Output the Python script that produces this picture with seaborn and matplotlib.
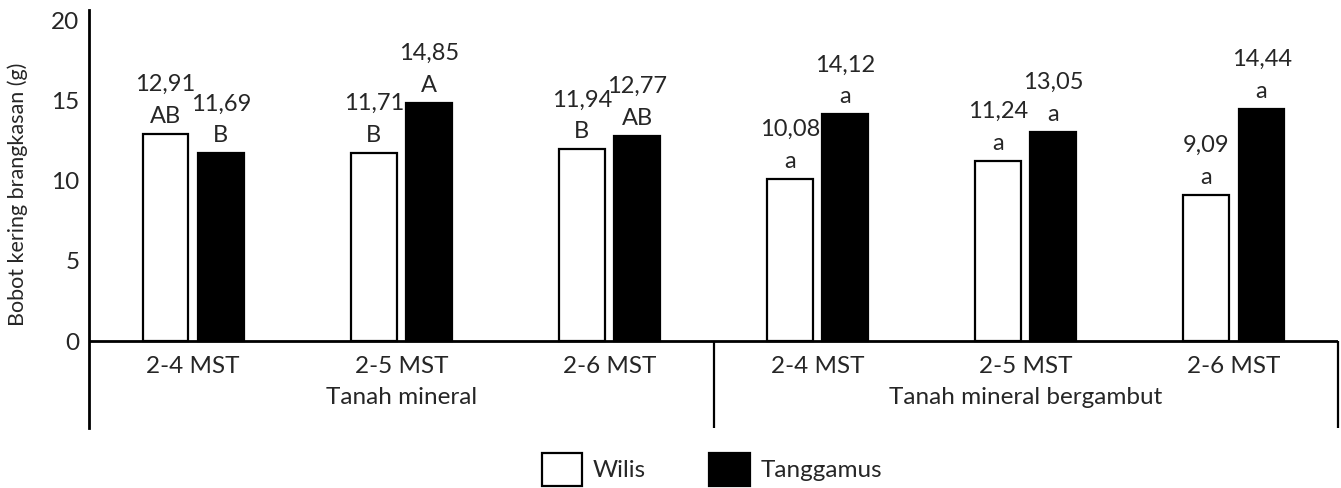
import matplotlib
matplotlib.use("Agg")
import matplotlib.pyplot as plt
from matplotlib.patches import Patch
import seaborn as sns
import pandas as pd

# Data: dry shoot weight (g) per soil type and observation period
soil_types = ["Tanah mineral", "Tanah mineral bergambut"]
periods = ["2-4 MST", "2-5 MST", "2-6 MST"]
varieties = ["Wilis", "Tanggamus"]

wilis_values = [12.91, 11.71, 11.94, 10.08, 11.24, 9.09]
tanggamus_values = [11.69, 14.85, 12.77, 14.12, 13.05, 14.44]
wilis_letters = ["AB", "B", "B", "a", "a", "a"]
tanggamus_letters = ["B", "A", "AB", "a", "a", "a"]

y_ticks = [0, 5, 10, 15, 20]
y_label = "Bobot kering brangkasan (g)"

# Long-form table
combos = [f"{s} | {p}" for s in soil_types for p in periods]
rows = []
for i, c in enumerate(combos):
    rows.append({"kombinasi": c, "varietas": "Wilis", "bobot": wilis_values[i]})
    rows.append({"kombinasi": c, "varietas": "Tanggamus", "bobot": tanggamus_values[i]})
df = pd.DataFrame(rows)

sns.set_style("white")
plt.rcParams["font.family"] = ["Lato", "DejaVu Sans"]

fig = plt.figure(figsize=(13.41, 4.88), dpi=100)
ax = fig.add_axes([0.0664, 0.123, 0.9314, 0.8557])

sns.barplot(
    data=df, x="kombinasi", y="bobot", hue="varietas", order=combos,
    hue_order=varieties, palette={"Wilis": "white", "Tanggamus": "black"},
    edgecolor="black", linewidth=1.6, width=0.53, gap=0.17,
    legend=False, ax=ax, errorbar=None,
)

ax.set_xlim(-0.5, len(combos) - 0.5)
ax.set_ylim(-5.4, 20.6)
ax.set_yticks(y_ticks)
ax.set_yticklabels([str(t) for t in y_ticks], fontsize=17.5)
ax.set_xticks([])
ax.set_xlabel("")
ax.set_ylabel(y_label, fontsize=15.5)
ax.yaxis.set_label_coords(-0.049, 0.56)

for side in ["top", "right", "bottom"]:
    ax.spines[side].set_visible(False)
ax.spines["left"].set_linewidth(2.0)
ax.spines["left"].set_color("black")
ax.tick_params(axis="y", direction="out", length=6, width=2.0, color="black", pad=1)

# Baseline and group separators of the category axis
ax.axhline(0, color="black", lw=2.0, zorder=3)
ax.vlines([2.5, 5.5], -5.4, 0, color="black", lw=1.6, clip_on=False)

for i, c in enumerate(combos):
    ax.text(i, -1.55, c.split(" | ")[1], ha="center", va="center", fontsize=17.5)
for j, s in enumerate(soil_types):
    ax.text(j * 3 + 1, -3.5, s, ha="center", va="center", fontsize=17.5)

# Value and significance labels above each bar
def fmt(v):
    return f"{v:.2f}".replace(".", ",")

for container, values, letters in zip(
    ax.containers, [wilis_values, tanggamus_values], [wilis_letters, tanggamus_letters]
):
    for bar, v, lt in zip(container, values, letters):
        xc = bar.get_x() + bar.get_width() / 2
        top = bar.get_height()
        ax.annotate(lt, (xc, top), xytext=(0, 8), textcoords="offset points",
                    ha="center", va="baseline", fontsize=17)
        ax.annotate(fmt(v), (xc, top), xytext=(0, 31), textcoords="offset points",
                    ha="center", va="baseline", fontsize=17)

handles = [
    Patch(facecolor="white", edgecolor="black", linewidth=1.6, label="Wilis"),
    Patch(facecolor="black", edgecolor="black", linewidth=1.6, label="Tanggamus"),
]
fig.legend(handles=handles, loc="center", bbox_to_anchor=(0.531, 0.038),
           ncol=2, frameon=False, fontsize=17.5, handlelength=1.65,
           handleheight=1.75, columnspacing=2.6, handletextpad=0.45)

fig.savefig("out.png", dpi=100)
